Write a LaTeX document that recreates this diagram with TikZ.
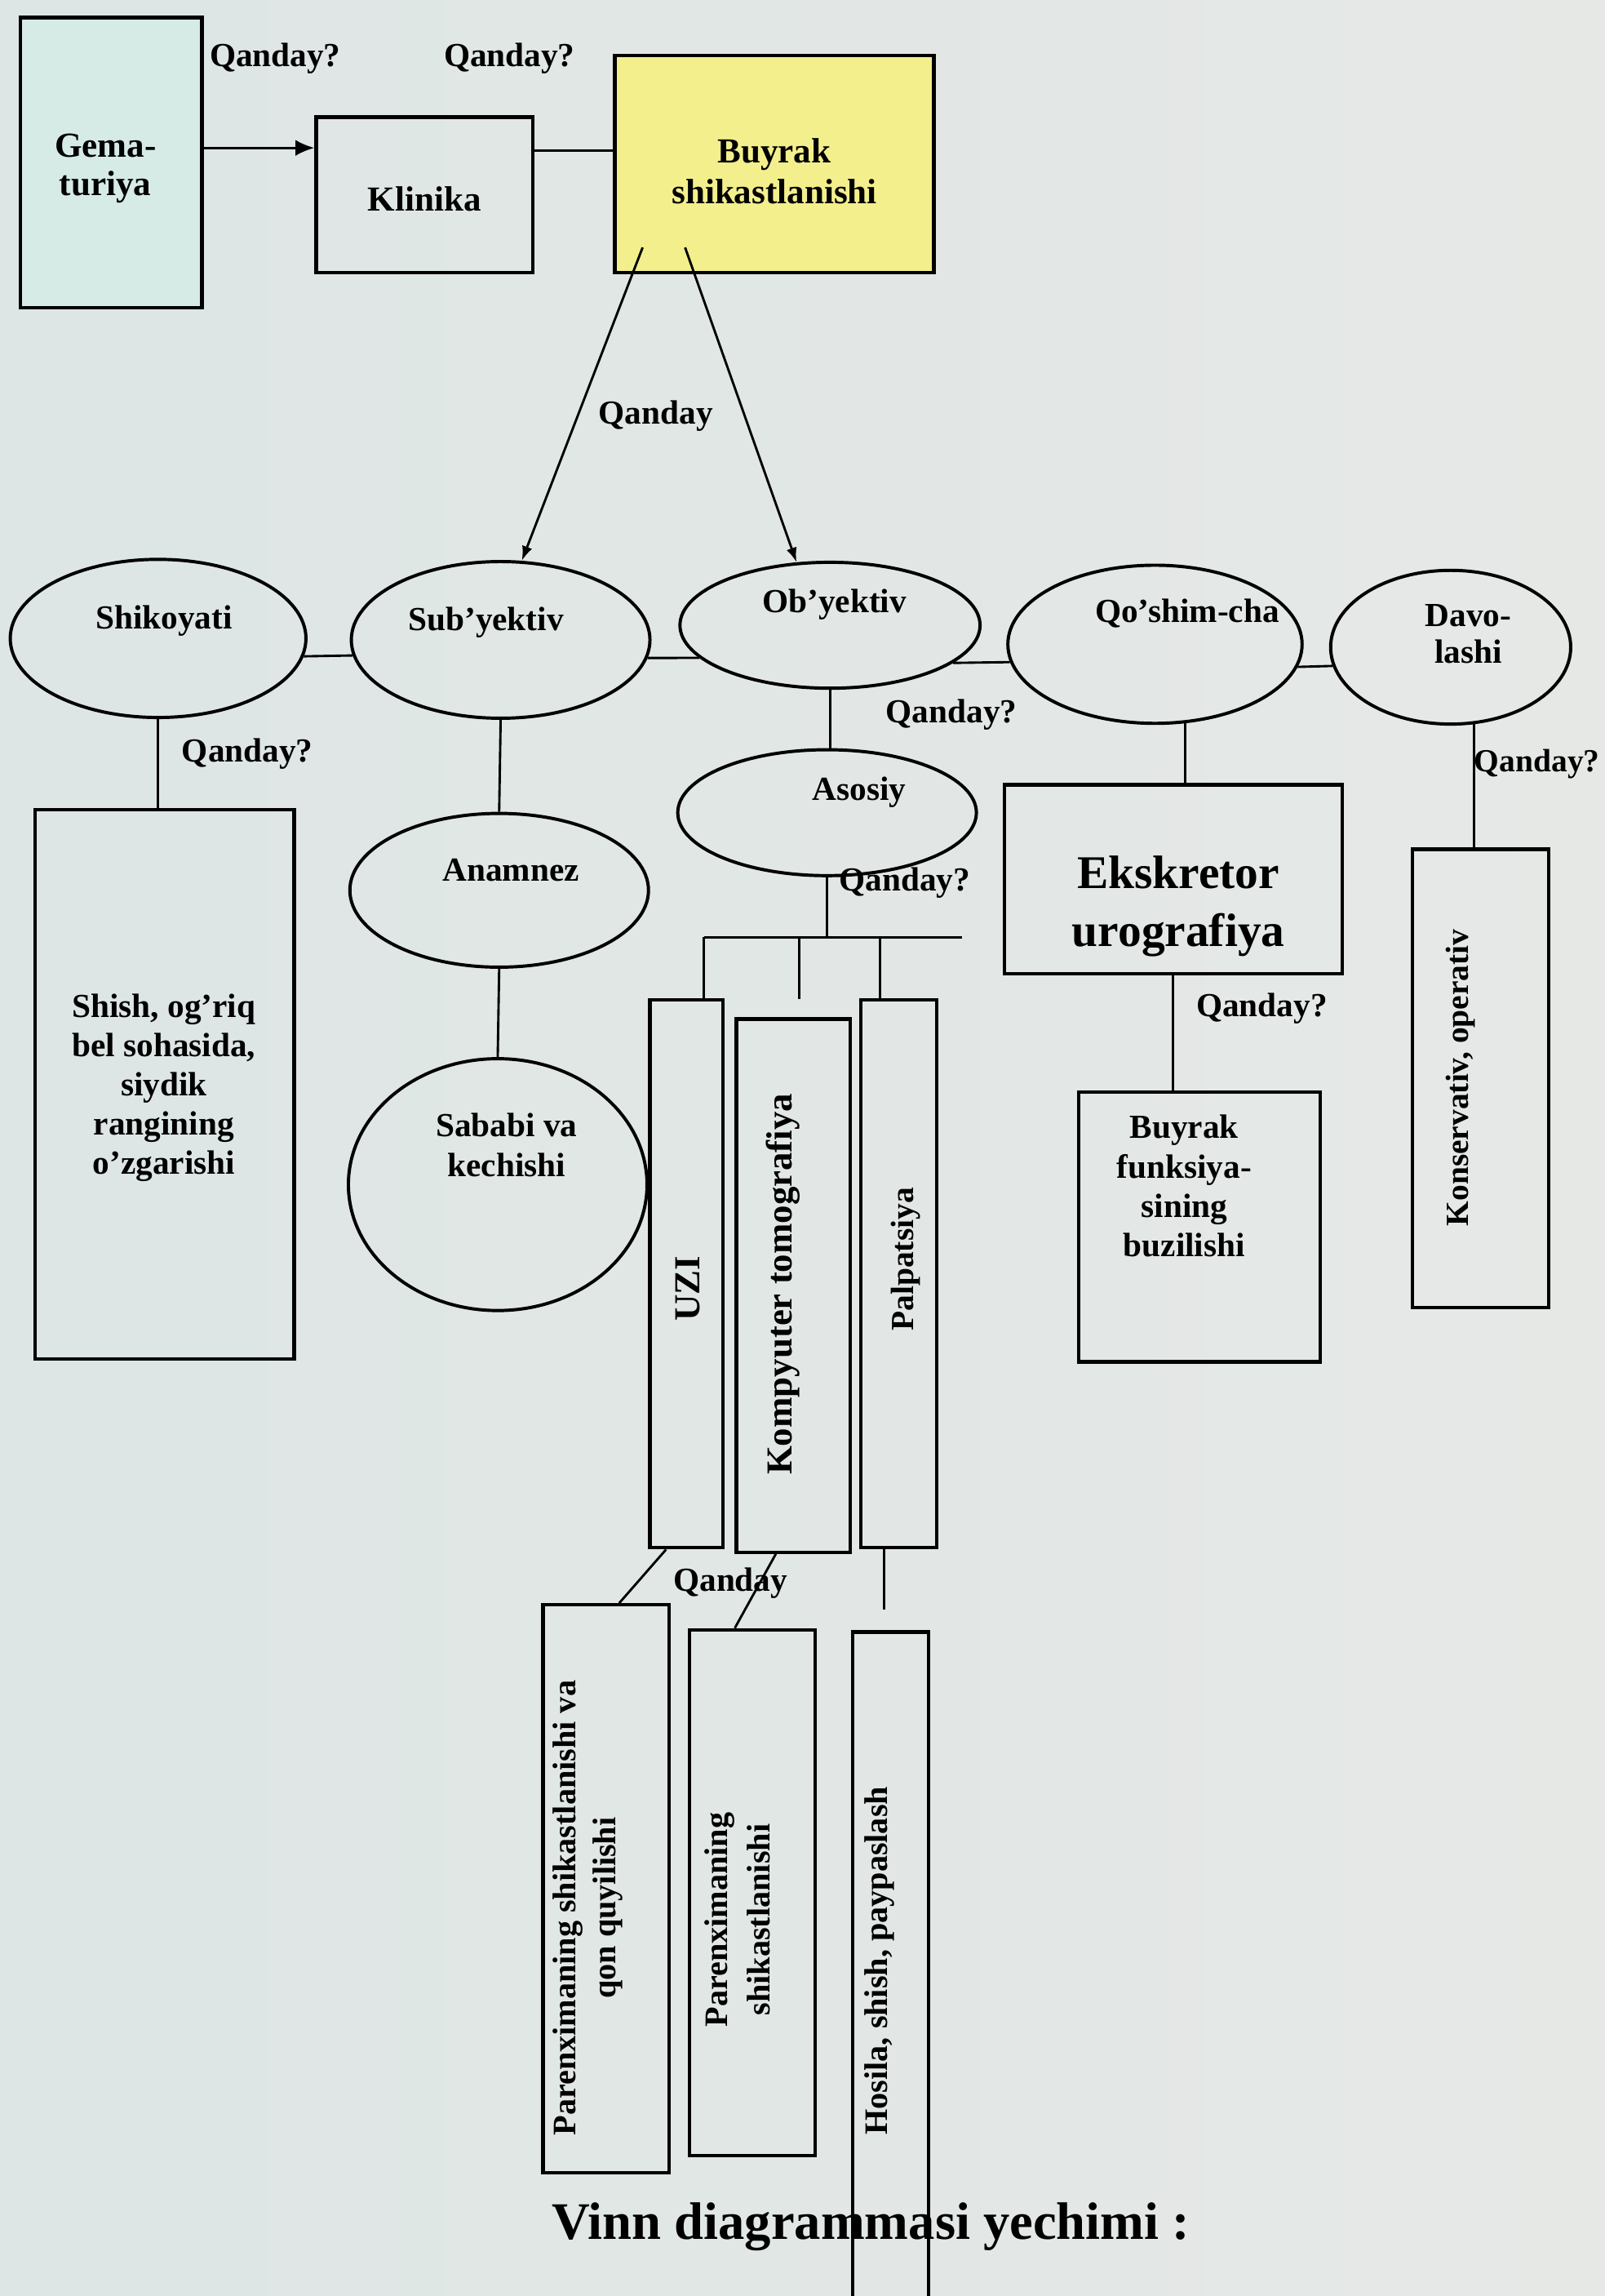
\documentclass[tikz,border=0pt]{standalone}
\usepackage{fontspec}
\setmainfont{Liberation Serif}
\usetikzlibrary{shapes.geometric,arrows.meta}

\definecolor{paperL}{RGB}{221,230,229}
\definecolor{paperR}{RGB}{230,232,230}
\definecolor{gemfill}{RGB}{214,234,230}
\definecolor{buyfill}{RGB}{243,239,140}

\tikzset{
  box/.style={draw, rectangle, line width=1.2pt, inner sep=0pt},
  oval/.style={draw, ellipse, line width=1.1pt, inner sep=0pt},
  txt/.style={font=\bfseries\fontsize{11.5}{13.5}\selectfont, align=center, inner sep=0pt},
  q/.style={font=\bfseries\fontsize{11.5}{13.5}\selectfont, inner sep=0pt},
  link/.style={line width=0.8pt},
  bigarr/.style={link, -{Latex[length=6.5pt,width=5.5pt]}},
  arr/.style={link, -{Latex[length=5pt,width=3.6pt]}},
}

\begin{document}
\begin{tikzpicture}[x=0.5pt,y=-0.5pt]
\useasboundingbox (0,0) rectangle (1096,1568);
\shade[left color=paperL, right color=paperR] (0,0) rectangle (1096,1568);

% ---- top row -------------------------------------------------------
\node[box, fill=gemfill, minimum width=62pt, minimum height=99pt] (gem) at (76,111) {};
\node[box, minimum width=74pt, minimum height=53pt] (kli) at (290,133) {};
\node[box, fill=buyfill, minimum width=109pt, minimum height=74pt] (buy) at (529,112) {};

\node[txt, font=\bfseries\fontsize{12}{13}\selectfont] (gem-t) at (72,115) {Gema-\\turiya};
\node[txt, font=\bfseries\fontsize{12}{13}\selectfont] (kli-t) at (290,136) {Klinika};
\node[txt, font=\bfseries\fontsize{12}{14}\selectfont] (buy-t) at (529,117) {Buyrak\\shikastlanishi};

% ---- row of ovals --------------------------------------------------
\node[oval, minimum width=101pt, minimum height=54pt] (shik) at (108,436) {};
\node[oval, minimum width=102pt, minimum height=53.5pt] (sub) at (342,437) {};
\node[oval, minimum width=102.5pt, minimum height=43pt] (ob) at (567,427) {};
\node[oval, minimum width=100.5pt, minimum height=54pt] (qo) at (789,440) {};
\node[oval, minimum width=82pt, minimum height=52.5pt] (davo) at (991,442) {};

\node[txt] (shik-t) at (112,424) {Shikoyati};
\node[txt] (sub-t) at (332,425) {Sub’yektiv};
\node[txt] (ob-t) at (570,413) {Ob’yektiv};
\node[txt] (qo-t) at (811,419) {Qo’shim-cha};
\node[txt, font=\bfseries\fontsize{11.5}{12.5}\selectfont] (davo-t) at (1003,433) {Davo-\\lashi};

% ---- lower shapes --------------------------------------------------
\node[box, minimum width=88.5pt, minimum height=187.5pt] (shish) at (112.5,740.5) {};
\node[txt, font=\bfseries\fontsize{11.5}{13.4}\selectfont] (shish-t) at (112,743)
  {Shish, og’riq\\bel sohasida,\\siydik\\rangining\\o’zgarishi};

\node[oval, minimum width=102pt, minimum height=52.5pt] (anam) at (341,608) {};
\node[txt] (anam-t) at (349,594) {Anamnez};
\node[oval, minimum width=102pt, minimum height=86pt] (sabab) at (340,809) {};
\node[txt] (sabab-t) at (346,782) {Sababi va\\kechishi};

\node[oval, minimum width=102pt, minimum height=43pt] (asos) at (565,555) {};
\node[txt] (asos-t) at (587,541) {Asosiy};

\node[box, minimum width=115.5pt, minimum height=64.5pt] (eks) at (801.5,600.5) {};
\node[txt, font=\bfseries\fontsize{16}{20}\selectfont] (eks-t) at (805,619) {Ekskretor\\urografiya};

\node[box, minimum width=82.5pt, minimum height=92pt] (bf) at (819.5,838) {};
\node[txt] (bf-t) at (809,810) {Buyrak\\funksiya-\\sining\\buzilishi};

\node[box, minimum width=46.5pt, minimum height=156.5pt] (kons) at (1011.5,736.5) {};
\node[txt, rotate=90, font=\bfseries\fontsize{11}{13}\selectfont] (kons-t) at (998,736) {Konservativ, operativ};

% ---- examination columns -------------------------------------------
\node[box, minimum width=25pt, minimum height=187pt] (uzi) at (469,870) {};
\node[box, minimum width=39pt, minimum height=182pt] (kt) at (542,878) {};
\node[box, minimum width=26pt, minimum height=187pt] (palp) at (614,870) {};
\node[txt, rotate=90, font=\bfseries\fontsize{12.5}{14}\selectfont] (uzi-t) at (470,880) {UZI};
\node[txt, rotate=90, font=\bfseries\fontsize{12.5}{14}\selectfont] (kt-t) at (535,877) {Kompyuter tomografiya};
\node[txt, rotate=90, font=\bfseries\fontsize{11}{13}\selectfont] (palp-t) at (619,860) {Palpatsiya};

% ---- findings columns ----------------------------------------------
\node[box, minimum width=43pt, minimum height=194pt] (p1) at (414,1290) {};
\node[box, minimum width=43pt, minimum height=179.5pt] (p2) at (514,1292.5) {};
\node[inner sep=0pt, minimum width=25.5pt, minimum height=226.5pt] (p3) at (608.5,1341.5) {};
\draw[line width=1.2pt] (p3.south west) -- (p3.north west) -- (p3.north east) -- (p3.south east);

\node[txt, rotate=90, font=\bfseries\fontsize{11.2}{13.5}\selectfont] (p1-t) at (401.5,1303)
  {Parenximaning shikastlanishi va\\qon quyilishi};
\node[txt, rotate=90, font=\bfseries\fontsize{11.2}{14.5}\selectfont] (p2-t) at (503.5,1311)
  {Parenximaning\\shikastlanishi};
\node[txt, rotate=90, font=\bfseries\fontsize{11.2}{13.5}\selectfont] (p3-t) at (601,1339)
  {Hosila, shish, paypaslash};

% ---- connectors ----------------------------------------------------
\draw[bigarr] ([yshift=5pt]gem.east) -- ([yshift=16pt]kli.west);
\draw[link] ([yshift=15pt]kli.east) -- ([yshift=4.5pt]buy.west);

\coordinate (bL) at (439,169);
\coordinate (bR) at (468,169);
\draw[arr] (bL) -- (sub.75);
\draw[arr] (bR) -- (ob.118);

\draw[link] (shik.-7) -- (sub.186);
\draw[link] (sub.-7) -- (ob.194);
\draw[link] (ob.-17) -- (qo.187);
\draw[link] (qo.-9) -- (davo.189);

\draw[link] (shik.south) -- (shik.south |- shish.north);
\draw[link] (sub.south) -- (anam.north);
\draw[link] (anam.south) -- (sabab.north);
\draw[link] (ob.south) -- (ob.south |- asos.north);

\coordinate (barL) at (481,640);
\coordinate (barR) at (657,640);
\coordinate (ktStub) at (546,682);
\coordinate (palpTop) at (601,683);
\draw[link] (asos.south) -- (asos.south |- barL);
\draw[link] (barL) -- (barR);
\draw[link] (barL) -- (barL |- uzi.north);
\draw[link] (barL -| ktStub) -- (ktStub);
\draw[link] (barL -| palpTop) -- (palpTop);

\draw[link] (qo.-69) -- (qo.-69 |- eks.north);
\draw[link] (eks.south) -- (eks.south |- bf.north);
\draw[link] (davo.-73) -- (davo.-73 |- kons.north);

\draw[link] ([xshift=-7pt]uzi.south) -- ([xshift=4.5pt]p1.north);
\draw[link] ([xshift=-6pt]kt.south) -- ([xshift=-6pt]p2.north);
\coordinate (palpStub) at (604,1099);
\draw[link] ([xshift=-5pt]palp.south) -- (palpStub);

% ---- question labels -----------------------------------------------
\node[q] (q1) at (188,40) {Qanday?};
\node[q] (q2) at (348,40) {Qanday?};
\node[q] (q3) at (448,284) {Qanday};
\node[q] (q4) at (169,515) {Qanday?};
\node[q] (q5) at (650,488) {Qanday?};
\node[q] (q6) at (618,603) {Qanday?};
\node[q] (q7) at (862,689) {Qanday?};
\node[q, font=\bfseries\fontsize{11}{13}\selectfont] (q8) at (1050,522) {Qanday?};
\node[q] (q9) at (499,1081) {Qanday};

% ---- caption -------------------------------------------------------
\node[anchor=base, inner sep=0pt, font=\bfseries\fontsize{18}{20}\selectfont] (vinn) at (595,1529)
  {Vinn diagrammasi yechimi :};
\end{tikzpicture}
\end{document}
